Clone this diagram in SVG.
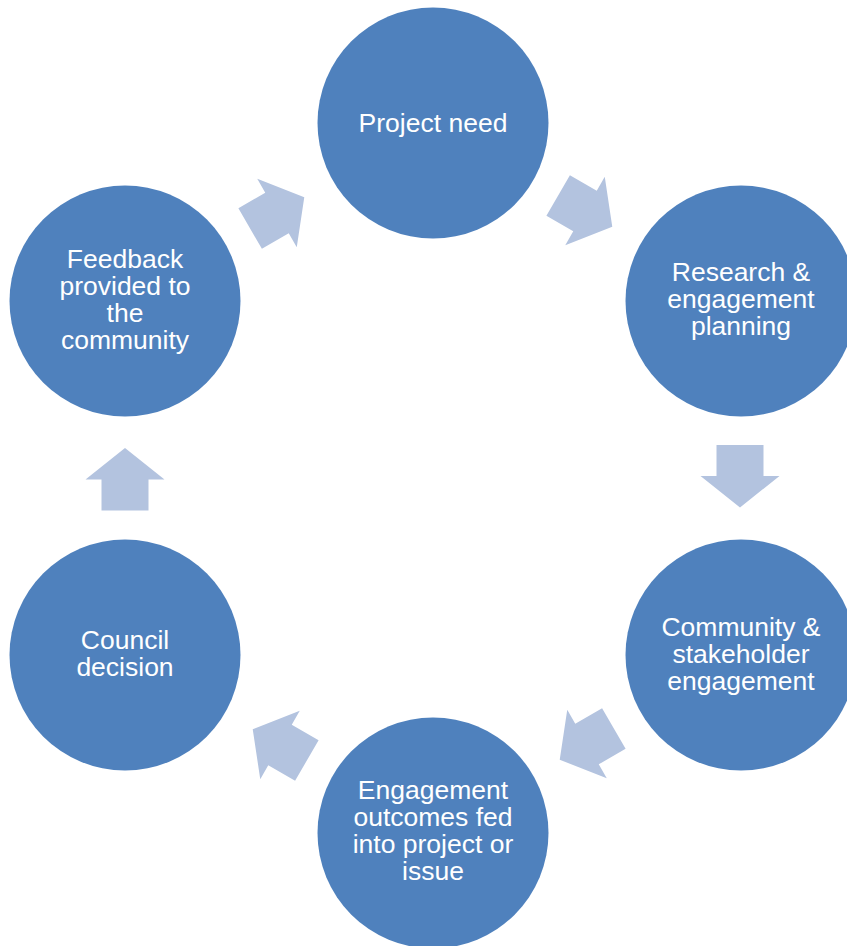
<svg xmlns="http://www.w3.org/2000/svg" width="847" height="946" viewBox="0 0 847 946">
  <defs>
    <style>
      .node { fill: #4F81BD; }
      .label { fill: #FFFFFF; font-family: "Liberation Sans", Arial, sans-serif; font-size: 26.5px; text-anchor: middle; }
      .arrow { fill: #B3C3DF; }
    </style>
    <!-- block arrow pointing right, origin at the head base -->
    <path id="blockArrow" d="M -31,-23.5 L 0,-23.5 L 0,-39.5 L 31.5,0 L 0,39.5 L 0,23.5 L -31,23.5 Z"/>
  </defs>
  <rect width="847" height="946" fill="#FFFFFF"/>

  <!-- connectors between steps of the cycle -->
  <g id="connectors">
    <use href="#blockArrow" class="arrow" transform="translate(585,211) rotate(30)"/>
    <use href="#blockArrow" class="arrow" transform="translate(740,476) rotate(90)"/>
    <use href="#blockArrow" class="arrow" transform="translate(587,744) rotate(150)"/>
    <use href="#blockArrow" class="arrow" transform="translate(280,745) rotate(210)"/>
    <use href="#blockArrow" class="arrow" transform="translate(125,479.5) rotate(-90)"/>
    <use href="#blockArrow" class="arrow" transform="translate(277,213) rotate(-30)"/>
  </g>

  <g id="project-need">
    <circle class="node" cx="433" cy="123" r="115.5"/>
    <text class="label" x="433" y="131.5">Project need</text>
  </g>

  <g id="research-planning">
    <circle class="node" cx="741" cy="301" r="115.5"/>
    <text class="label" x="741" y="280.7">Research &amp;</text>
    <text class="label" x="741" y="308">engagement</text>
    <text class="label" x="741" y="335.3">planning</text>
  </g>

  <g id="community-engagement">
    <circle class="node" cx="741" cy="655" r="115.5"/>
    <text class="label" x="741" y="635.5">Community &amp;</text>
    <text class="label" x="741" y="662.8">stakeholder</text>
    <text class="label" x="741" y="690.1">engagement</text>
  </g>

  <g id="engagement-outcomes">
    <circle class="node" cx="433" cy="833" r="115.5"/>
    <text class="label" x="433" y="798.5">Engagement</text>
    <text class="label" x="433" y="825.8">outcomes fed</text>
    <text class="label" x="433" y="853.1">into project or</text>
    <text class="label" x="433" y="880.4">issue</text>
  </g>

  <g id="council-decision">
    <circle class="node" cx="125" cy="655" r="115.5"/>
    <text class="label" x="125" y="648.5">Council</text>
    <text class="label" x="125" y="675.8">decision</text>
  </g>

  <g id="feedback">
    <circle class="node" cx="125" cy="301" r="115.5"/>
    <text class="label" x="125" y="267.5">Feedback</text>
    <text class="label" x="125" y="294.8">provided to</text>
    <text class="label" x="125" y="322.1">the</text>
    <text class="label" x="125" y="349.4">community</text>
  </g>
</svg>
